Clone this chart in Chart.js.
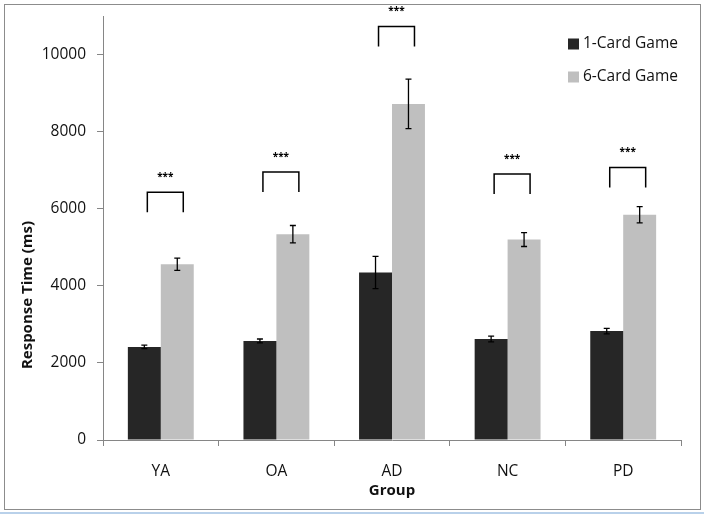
<!DOCTYPE html>
<html>
<head>
<meta charset="utf-8">
<script src="https://cdn.jsdelivr.net/npm/chart.js@4"></script>
<style>
  html, body { margin: 0; padding: 0; background: #fff; }
  #wrap { position: relative; width: 704px; height: 514px; }
  #frame { position: absolute; left: 4px; top: 4px; width: 695px; height: 504px; border: 1px solid #8c8c8c; pointer-events: none; }
  #strip { position: absolute; left: 0; top: 512px; width: 704px; height: 2px; background: #b9d1ea; }
</style>
</head>
<body>
<div id="wrap">
  <canvas id="chart" width="704" height="514"></canvas>
  <div id="frame"></div>
  <div id="strip"></div>
</div>
<script>
// categories
const groups = ['YA', 'OA', 'AD', 'NC', 'PD'];
// mean response time (ms)
const oneCardRT = [2415, 2570, 4345, 2620, 2825];
const sixCardRT = [4560, 5340, 8720, 5200, 5845];
// error bars (ms)
const oneCardErr = [45, 50, 420, 75, 70];
const sixCardErr = [160, 225, 640, 180, 210];
// significance brackets: top of the bracket (ms) and label
const bracketTop = [6430, 6950, 10730, 6900, 7070];
const sigLabels = ['***', '***', '***', '***', '***'];
// y axis
const yTicks = [0, 2000, 4000, 6000, 8000, 10000];
const yMax = 11000;

const axisColor = '#868686';
const textColor = '#111';
const fontFamily = "'Open Sans', 'Noto Sans', sans-serif";

// error bars, brackets, axis titles, legend
const extras = {
  id: 'extras',
  afterDatasetsDraw(chart) {
    const ctx = chart.ctx;
    const y = chart.scales.y;
    const errs = [oneCardErr, sixCardErr];
    ctx.save();
    ctx.strokeStyle = '#000';
    ctx.lineWidth = 1.3;
    chart.data.datasets.forEach((ds, i) => {
      const meta = chart.getDatasetMeta(i);
      meta.data.forEach((bar, j) => {
        const v = ds.data[j];
        const e = errs[i][j];
        const top = y.getPixelForValue(v + e);
        const bot = y.getPixelForValue(v - e);
        ctx.beginPath();
        ctx.moveTo(bar.x, top); ctx.lineTo(bar.x, bot);
        ctx.moveTo(bar.x - 3, top); ctx.lineTo(bar.x + 3, top);
        ctx.moveTo(bar.x - 3, bot); ctx.lineTo(bar.x + 3, bot);
        ctx.stroke();
      });
    });

    // brackets
    const m0 = chart.getDatasetMeta(0);
    const m1 = chart.getDatasetMeta(1);
    ctx.lineWidth = 1.5;
    ctx.fillStyle = '#000';
    ctx.font = "bold 10px " + fontFamily;
    ctx.textAlign = 'center';
    ctx.textBaseline = 'middle';
    groups.forEach((g, j) => {
      const x0 = m0.data[j].x + 3;
      const x1 = m1.data[j].x + 6;
      const yt = y.getPixelForValue(bracketTop[j]);
      ctx.beginPath();
      ctx.moveTo(x0, yt + 20); ctx.lineTo(x0, yt); ctx.lineTo(x1, yt); ctx.lineTo(x1, yt + 20);
      ctx.stroke();
      ctx.fillText(sigLabels[j], (x0 + x1) / 2, yt - 15);
    });
    ctx.restore();
  },
  afterDraw(chart) {
    const ctx = chart.ctx;
    const a = chart.chartArea;
    ctx.save();
    ctx.fillStyle = textColor;
    ctx.font = "bold 15px " + fontFamily;
    ctx.textAlign = 'center';
    ctx.textBaseline = 'middle';
    // x axis title
    ctx.fillText('Group', (a.left + a.right) / 2, 491);
    // y axis title
    ctx.translate(28, a.bottom - 145);
    ctx.rotate(-Math.PI / 2);
    ctx.fillText('Response Time (ms)', 0, 0);
    ctx.restore();

    // legend
    ctx.save();
    ctx.font = "15.5px " + fontFamily;
    ctx.textAlign = 'left';
    ctx.textBaseline = 'middle';
    chart.data.datasets.forEach((ds, i) => {
      const cy = 44 + i * 33;
      ctx.fillStyle = ds.backgroundColor;
      ctx.fillRect(568, cy - 5.5, 11, 11);
      ctx.fillStyle = textColor;
      ctx.fillText(ds.label, 583, cy);
    });
    ctx.restore();
  }
};

new Chart(document.getElementById('chart'), {
  type: 'bar',
  data: {
    labels: groups,
    datasets: [{
      label: '1-Card Game',
      data: oneCardRT,
      backgroundColor: '#262626'
    }, {
      label: '6-Card Game',
      data: sixCardRT,
      backgroundColor: '#bfbfbf'
    }]
  },
  options: {
    responsive: false,
    animation: false,
    events: [],
    layout: { padding: { left: 0, right: 23, top: 16, bottom: 0 } },
    datasets: { bar: { categoryPercentage: 0.57, barPercentage: 1.0 } },
    plugins: {
      legend: { display: false },
      tooltip: { enabled: false }
    },
    scales: {
      x: {
        grid: { drawOnChartArea: false, drawTicks: true, tickLength: 6, color: axisColor, offset: true },
        border: { display: true, color: axisColor, width: 1 },
        ticks: { color: textColor, font: { family: fontFamily, size: 15.5 }, padding: 16 },
        afterFit: s => { s.height = 74; s.paddingLeft = 0; s.paddingRight = 0; }
      },
      y: {
        min: 0,
        max: yMax,
        afterBuildTicks: s => { s.ticks = yTicks.map(v => ({ value: v })); },
        grid: { drawOnChartArea: false, drawTicks: true, tickLength: 6, color: axisColor },
        border: { display: true, color: axisColor, width: 1 },
        ticks: { color: textColor, font: { family: fontFamily, size: 15.5 }, padding: 11, callback: v => String(v) },
        afterFit: s => { s.width = 103; s.paddingTop = 0; s.paddingBottom = 0; }
      }
    }
  },
  plugins: [extras]
});
</script>
</body>
</html>
